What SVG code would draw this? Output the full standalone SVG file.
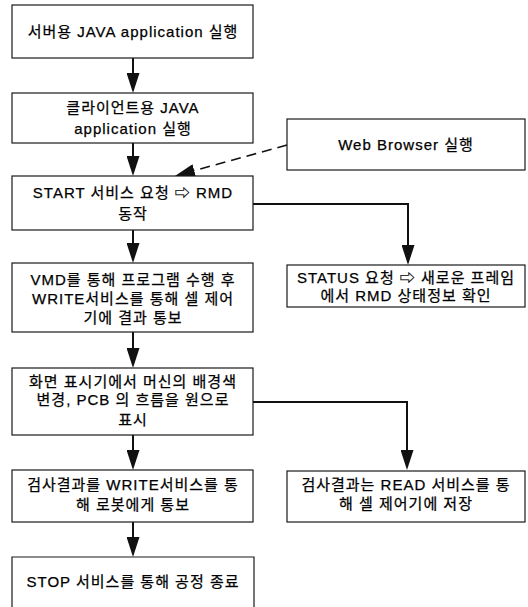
<svg xmlns="http://www.w3.org/2000/svg" width="528" height="607" viewBox="0 0 528 607">
  <style>
    .box { fill: #ffffff; stroke: #1a1a1a; stroke-width: 1.2; }
    .lbl { font-family: "Liberation Sans", "Noto Sans CJK KR", Arial, sans-serif; font-size: 15px; font-weight: normal; fill: #000000; text-anchor: middle; letter-spacing: 1px; stroke: #000000; stroke-width: 0.25px; }
    .flow { fill: none; stroke: #111111; stroke-width: 2; }
    .dash { fill: none; stroke: #111111; stroke-width: 1.6; stroke-dasharray: 10 6; }
  </style>
  <defs>
    <marker id="head" markerUnits="userSpaceOnUse" markerWidth="20" markerHeight="13" refX="10" refY="6.5" orient="auto">
      <path d="M0,0 L20,6.5 L0,13 z" fill="#111111"/>
    </marker>
  </defs>
  <rect width="528" height="607" fill="#ffffff"/>

  <!-- connectors -->
  <g id="connectors">
    <line class="flow" x1="133" y1="58" x2="133" y2="83" marker-end="url(#head)"/>
    <line class="flow" x1="133" y1="143" x2="133" y2="166" marker-end="url(#head)"/>
    <line class="flow" x1="133" y1="230" x2="133" y2="253" marker-end="url(#head)"/>
    <line class="flow" x1="133" y1="332" x2="133" y2="358" marker-end="url(#head)"/>
    <line class="flow" x1="133" y1="435" x2="133" y2="460" marker-end="url(#head)"/>
    <line class="flow" x1="133" y1="522" x2="133" y2="547" marker-end="url(#head)"/>
    <line class="dash" x1="287" y1="145" x2="184.6" y2="173.3" marker-end="url(#head)"/>
    <polyline class="flow" points="253,204 408,204 408,255" marker-end="url(#head)"/>
    <polyline class="flow" points="253,402 407,402 407,460" marker-end="url(#head)"/>
  </g>

  <g id="server-app">
    <rect class="box" x="12" y="5" width="241" height="53"/>
    <text class="lbl" x="133" y="37">서버용 JAVA application 실행</text>
  </g>

  <g id="client-app">
    <rect class="box" x="12" y="93" width="241" height="50"/>
    <text class="lbl" x="133" y="113">클라이언트용 JAVA</text>
    <text class="lbl" x="133" y="134">application 실행</text>
  </g>

  <g id="start-service">
    <rect class="box" x="12" y="176" width="241" height="54"/>
    <text class="lbl" x="133" y="198">START 서비스 요청 ⇨ RMD</text>
    <text class="lbl" x="133" y="219">동작</text>
  </g>

  <g id="web-browser">
    <rect class="box" x="287" y="119" width="238" height="51"/>
    <text class="lbl" x="406" y="150">Web Browser 실행</text>
  </g>

  <g id="status-request">
    <rect class="box" x="287" y="265" width="238" height="42"/>
    <text class="lbl" x="406" y="283">STATUS 요청 ⇨ 새로운 프레임</text>
    <text class="lbl" x="406" y="301">에서 RMD 상태정보 확인</text>
  </g>

  <g id="vmd-run">
    <rect class="box" x="12" y="263" width="241" height="69"/>
    <text class="lbl" x="133" y="285">VMD를 통해 프로그램 수행 후</text>
    <text class="lbl" x="133" y="304">WRITE서비스를 통해 셀 제어</text>
    <text class="lbl" x="133" y="323">기에 결과 통보</text>
  </g>

  <g id="display-update">
    <rect class="box" x="12" y="368" width="241" height="67"/>
    <text class="lbl" x="133" y="387">화면 표시기에서 머신의 배경색</text>
    <text class="lbl" x="133" y="405">변경, PCB 의 흐름을 원으로</text>
    <text class="lbl" x="133" y="425">표시</text>
  </g>

  <g id="write-robot">
    <rect class="box" x="12" y="470" width="241" height="52"/>
    <text class="lbl" x="133" y="490">검사결과를 WRITE서비스를 통</text>
    <text class="lbl" x="133" y="510">해 로봇에게 통보</text>
  </g>

  <g id="read-store">
    <rect class="box" x="287" y="471" width="238" height="51"/>
    <text class="lbl" x="406" y="490">검사결과는 READ 서비스를 통</text>
    <text class="lbl" x="406" y="509">해 셀 제어기에 저장</text>
  </g>

  <g id="stop-service">
    <path class="box" d="M12,612 L12,557 L254,557 L254,612"/>
    <text class="lbl" x="133" y="587">STOP 서비스를 통해 공정 종료</text>
  </g>
</svg>
